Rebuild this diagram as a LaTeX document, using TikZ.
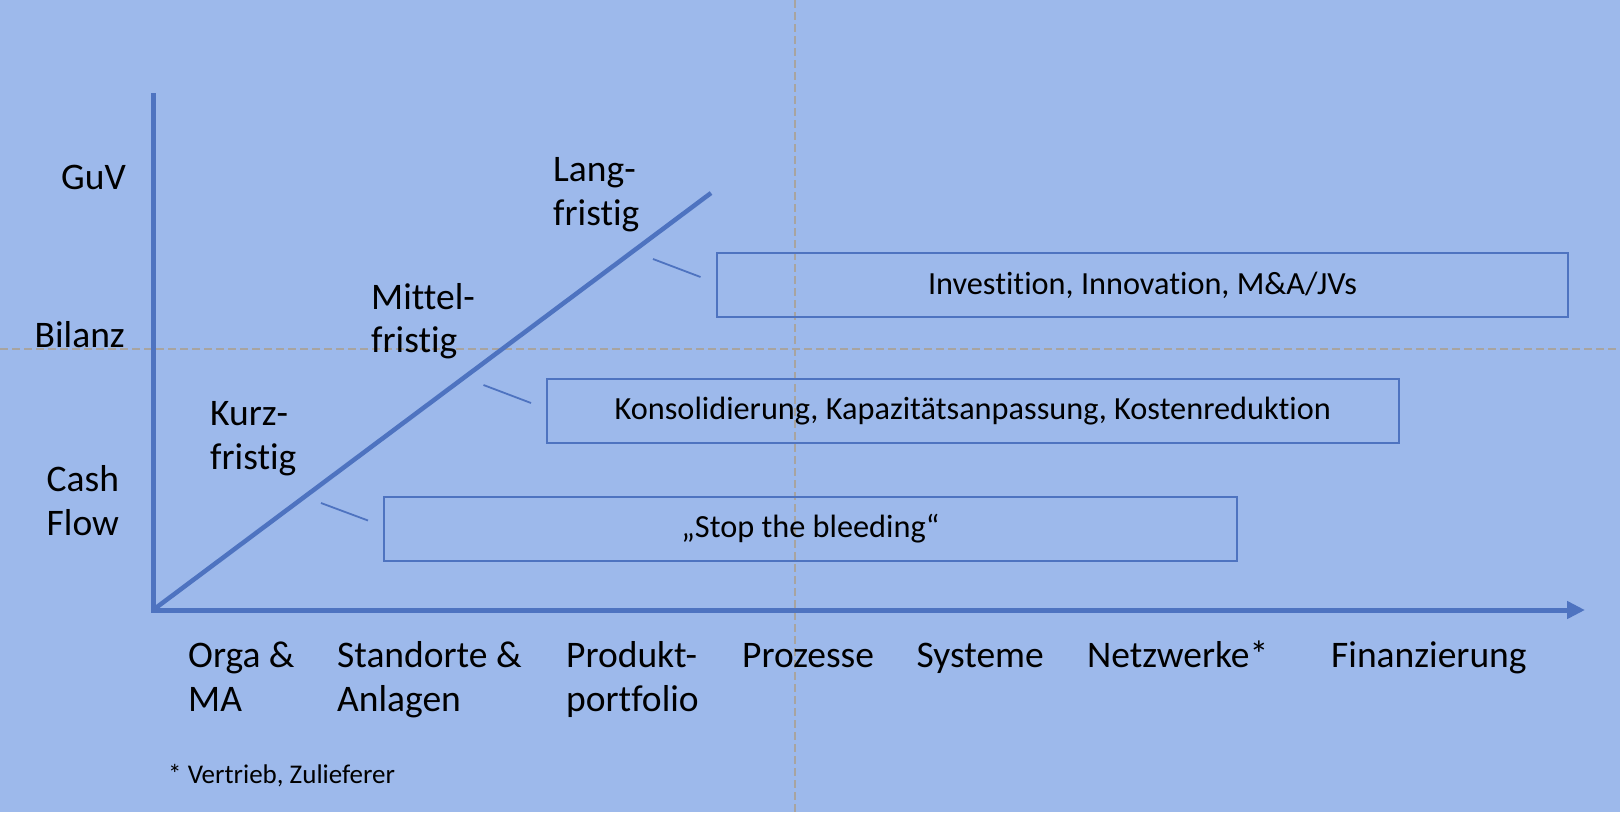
\documentclass[tikz,border=0pt]{standalone}
\usepackage{fontspec}
\setmainfont{Carlito}[Ligatures=NoCommon]
\usetikzlibrary{arrows.meta}
\definecolor{bg}{RGB}{157,185,235}
\definecolor{ax}{RGB}{78,115,192}
\definecolor{guidegray}{RGB}{168,164,160}
\begin{document}
\begin{tikzpicture}[x=1pt,y=-1pt,
  lbl/.style={font=\fontsize{37.5}{43.3}\selectfont, inner sep=0pt, align=left},
  foot/.style={font=\fontsize{27}{32}\selectfont, inner sep=0pt},
  bar/.style={draw=ax, line width=2pt, minimum height=64pt, inner sep=0pt,
    font=\fontsize{32.3}{38}\selectfont},
  tickline/.style={draw=ax, line width=1.8pt},
  axisline/.style={draw=ax, line width=5pt, line join=miter},
  guide/.style={draw=guidegray, line width=2pt, dash pattern=on 8pt off 4pt}]
\fill[bg] (0,0) rectangle (1620,812);
\useasboundingbox (0,0) rectangle (1620,812);
% guide lines
\draw[guide] (0,348.5) -- (1620,348.5);
\draw[guide] (794.7,0) -- (794.7,812);
% axes
\coordinate (O) at (153,610);
\coordinate (ytop) at (153,93);
\coordinate (xend) at (1585,610);
\coordinate (dend) at (711,193);
\draw[axisline, -{Triangle[length=18pt,width=17pt]}] (ytop) -- (O) -- (xend);
\draw[axisline, line width=4.5pt] (O) -- (dend);
% boxes
\node[bar, minimum width=851pt] (b1) at (1142.5,285) {Investition, Innovation, M\&A/JVs};
\node[bar, minimum width=852pt] (b2) at (972.8,411) {Konsolidierung, Kapazitätsanpassung, Kostenreduktion};
\node[bar, minimum width=853pt] (b3) at (810.5,529) {„Stop the bleeding“};
% ticks
\coordinate (t1a) at (653,259); \coordinate (t1b) at (700.5,277);
\coordinate (t2a) at (483.5,385); \coordinate (t2b) at (531,403);
\coordinate (t3a) at (321,503); \coordinate (t3b) at (368,520.5);
\draw[tickline] (t1a) -- (t1b);
\draw[tickline] (t2a) -- (t2b);
\draw[tickline] (t3a) -- (t3b);
% y labels
\node[lbl, anchor=base east] (guv) at (126,189) {GuV};
\node[lbl, anchor=base east] (bil) at (125,347.5) {Bilanz};
\node[lbl, anchor=base west] (cf) at (46.5,535) {Cash\\Flow};
% horizon labels
\node[lbl, anchor=base west] (lang) at (553,225) {Lang-\\fristig};
\node[lbl, anchor=base west] (mit) at (371,352.5) {Mittel-\\fristig};
\node[lbl, anchor=base west] (kurz) at (210,469) {Kurz-\\fristig};
% x labels
\node[lbl, anchor=base west] (x1) at (188,711) {Orga \&\\MA};
\node[lbl, anchor=base west] (x2) at (337,711) {Standorte \&\\Anlagen};
\node[lbl, anchor=base west] (x3) at (566,711) {Produkt-\\portfolio};
\node[lbl, anchor=base west] (x4) at (742,667) {Prozesse};
\node[lbl, anchor=base west] (x5) at (916.5,667) {Systeme};
\node[lbl, anchor=base west] (x6) at (1087,667) {Netzwerke*};
\node[lbl, anchor=base west] (x7) at (1331,667) {Finanzierung};
% footnote
\node[foot, anchor=base west] (fn) at (168,783.3) {* Vertrieb, Zulieferer};
\end{tikzpicture}
\end{document}
